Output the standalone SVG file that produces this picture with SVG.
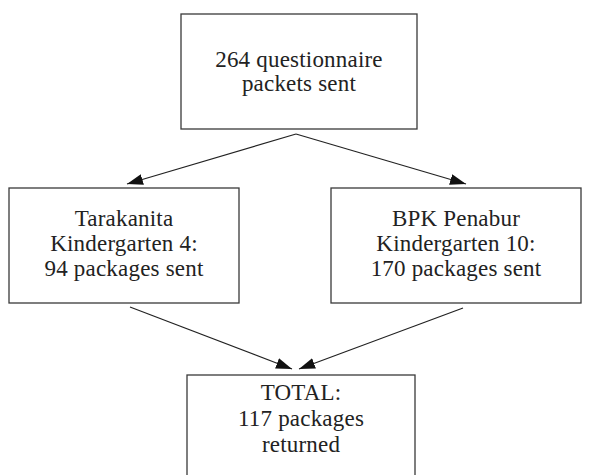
<svg xmlns="http://www.w3.org/2000/svg" width="590" height="475" viewBox="0 0 590 475">
<style>
.box{fill:#fff;stroke:#3a3a3a;stroke-width:1.3}
.t{font-family:"Liberation Serif","Times New Roman",serif;font-size:23px;fill:#222;text-anchor:middle;letter-spacing:0.2px}
.c{stroke:#222;stroke-width:1.2;fill:none;marker-end:url(#ah)}
</style>
<defs>
<marker id="ah" markerWidth="17" markerHeight="11" refX="16" refY="5.5" orient="auto" markerUnits="userSpaceOnUse">
<path d="M0,0 L16,5.5 L0,11 z" fill="#111"/>
</marker>
</defs>
<rect width="590" height="475" fill="#fff"/>
<g id="connectors">
<line class="c" x1="296" y1="134" x2="127" y2="184"/>
<line class="c" x1="296" y1="134" x2="466" y2="184"/>
<line class="c" x1="130" y1="307" x2="292" y2="369"/>
<line class="c" x1="463" y1="308" x2="299" y2="369"/>
</g>
<g id="top">
<rect class="box" x="181" y="14" width="236" height="115"/>
<text class="t" x="299" y="67">264 questionnaire</text>
<text class="t" x="299" y="91">packets sent</text>
</g>
<g id="left">
<rect class="box" x="9" y="188" width="230" height="115"/>
<text class="t" x="124" y="226">Tarakanita</text>
<text class="t" x="124" y="251">Kindergarten 4:</text>
<text class="t" x="124" y="276">94 packages sent</text>
</g>
<g id="right">
<rect class="box" x="331" y="188" width="250" height="115"/>
<text class="t" x="456" y="226">BPK Penabur</text>
<text class="t" x="456" y="251">Kindergarten 10:</text>
<text class="t" x="456" y="276">170 packages sent</text>
</g>
<g id="total">
<rect class="box" x="187" y="375" width="228" height="110"/>
<text class="t" x="301" y="400">TOTAL:</text>
<text class="t" x="301" y="426">117 packages</text>
<text class="t" x="301" y="452">returned</text>
</g>
</svg>
